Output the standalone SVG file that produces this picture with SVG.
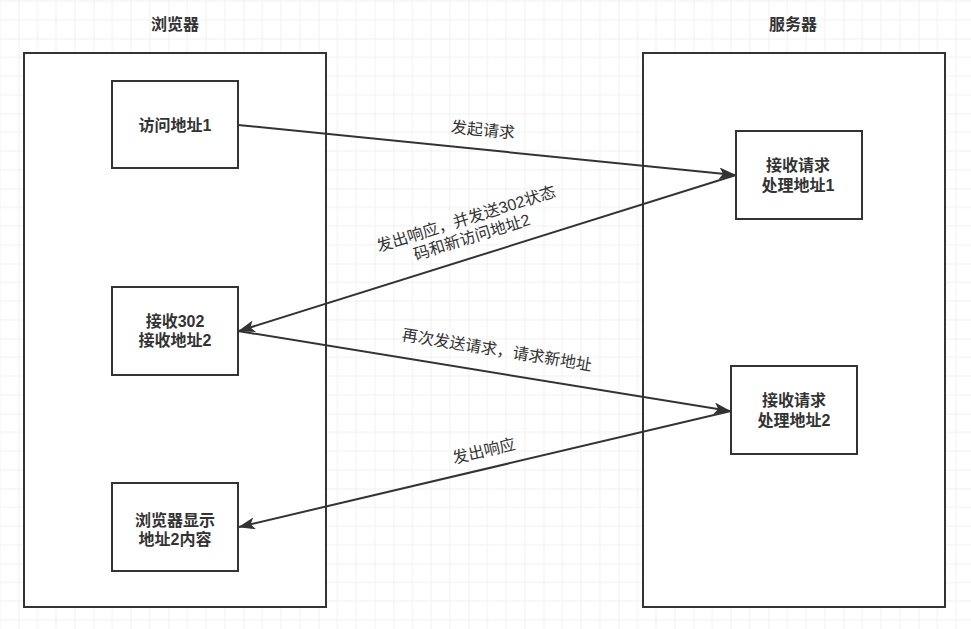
<svg xmlns="http://www.w3.org/2000/svg" width="971" height="629" viewBox="0 0 971 629">
  <defs>
    <pattern id="grid" patternUnits="userSpaceOnUse" x="18.5" y="38.5" width="75" height="75">
      <path d="M18.75 0V75M37.5 0V75M56.25 0V75M0 18.75H75M0 37.5H75M0 56.25H75" stroke="#f0f0f0" stroke-width="1" fill="none"/>
      <path d="M0 0V75M0 0H75" stroke="#e2e2e2" stroke-width="1" fill="none"/>
    </pattern>
    <marker id="arrow" markerUnits="userSpaceOnUse" markerWidth="17" markerHeight="12" viewBox="0 0 17 12" refX="16" refY="6" orient="auto">
      <path d="M0,0 L17,6 L0,12 L4,6 Z" fill="#333333"/>
    </marker>
    <style>
      .box { fill: #ffffff; stroke: #333333; stroke-width: 2; }
      .node-text { font-family: "Liberation Sans", "Noto Sans CJK SC", sans-serif; font-size: 16px; font-weight: bold; fill: #333333; text-anchor: middle; dominant-baseline: central; }
      .label { font-family: "Liberation Sans", "Noto Sans CJK SC", sans-serif; font-size: 16px; fill: #333333; text-anchor: middle; dominant-baseline: central; }
      .edge { fill: none; stroke: #333333; stroke-width: 2; marker-end: url(#arrow); }
    </style>
  </defs>

  <rect x="0" y="0" width="971" height="629" fill="#ffffff"/>
  <rect x="0" y="0" width="971" height="629" fill="url(#grid)"/>

  <g id="browser">
    <rect class="box" x="24" y="53" width="302" height="554"/>
    <text class="node-text" x="175" y="24">浏览器</text>
  </g>
  <g id="server">
    <rect class="box" x="643" y="53" width="302" height="554"/>
    <text class="node-text" x="793" y="24">服务器</text>
  </g>

  <g id="visit-url1">
    <rect class="box" x="112" y="81" width="126" height="87"/>
    <text class="node-text" x="175" y="125">访问地址1</text>
  </g>
  <g id="receive-302">
    <rect class="box" x="112" y="287" width="126" height="88"/>
    <text class="node-text" x="175" y="321">接收302</text>
    <text class="node-text" x="175" y="340">接收地址2</text>
  </g>
  <g id="browser-show">
    <rect class="box" x="112" y="483" width="126" height="88"/>
    <text class="node-text" x="175" y="520">浏览器显示</text>
    <text class="node-text" x="175" y="539">地址2内容</text>
  </g>
  <g id="server-handle1">
    <rect class="box" x="736" y="131" width="126" height="88"/>
    <text class="node-text" x="798" y="165">接收请求</text>
    <text class="node-text" x="798" y="185">处理地址1</text>
  </g>
  <g id="server-handle2">
    <rect class="box" x="731" y="366" width="126" height="88"/>
    <text class="node-text" x="794" y="400">接收请求</text>
    <text class="node-text" x="794" y="420">处理地址2</text>
  </g>

  <g id="connectors">
    <path class="edge" d="M238 125 L735 175"/>
    <path class="edge" d="M736 175 L239 331"/>
    <path class="edge" d="M238 331 L730 411"/>
    <path class="edge" d="M731 411 L239 527"/>
    <text class="label" transform="translate(483,130) rotate(5.7)">发起请求</text>
    <g transform="translate(469,228) rotate(-17.4)">
      <text class="label" x="0" y="-9.5">发出响应，并发送302状态</text>
      <text class="label" x="0" y="9.5">码和新访问地址2</text>
    </g>
    <text class="label" transform="translate(497,350) rotate(9.2)">再次发送请求，请求新地址</text>
    <text class="label" transform="translate(484,451) rotate(-13.2)">发出响应</text>
  </g>
</svg>
